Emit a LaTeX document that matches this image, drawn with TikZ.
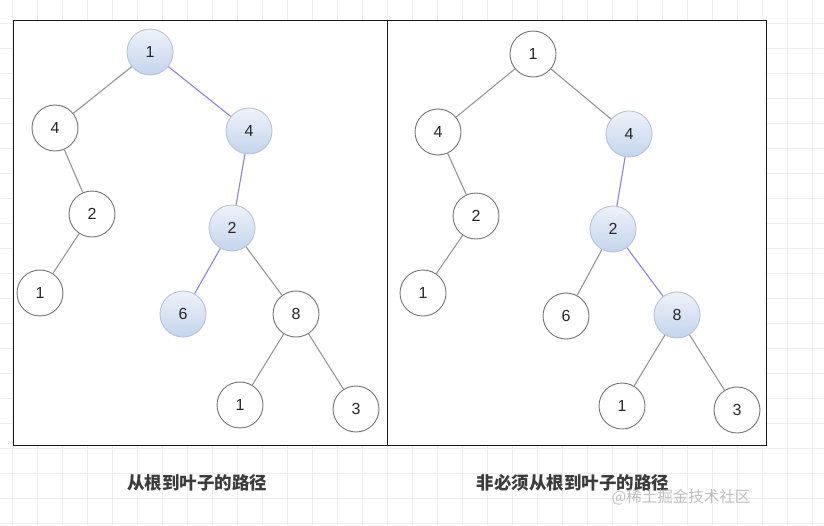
\documentclass[tikz,border=0pt]{standalone}
\usepackage{fontspec}
\setmainfont{Liberation Sans}
\newfontfamily\cjk{Noto Sans CJK SC}
\usetikzlibrary{positioning}
\definecolor{gridgray}{RGB}{238,238,238}
\definecolor{edgegray}{RGB}{150,150,150}
\definecolor{pathviolet}{RGB}{140,130,225}
\definecolor{ringgray}{RGB}{115,115,115}
\definecolor{hitring}{RGB}{185,195,210}
\definecolor{hittop}{RGB}{238,242,250}
\definecolor{hitbottom}{RGB}{196,212,236}
\definecolor{captiongray}{RGB}{60,60,60}
\definecolor{markgray}{RGB}{190,190,190}
\tikzset{
  vertex/.style={circle,draw=ringgray,line width=0.9pt,fill=white,minimum size=46pt,
                 inner sep=0pt,font=\fontsize{16}{18}\selectfont,text=black!85},
  onpath/.style={vertex,draw=hitring,top color=hittop,bottom color=hitbottom},
  branch/.style={edgegray,line width=1.1pt},
  route/.style={pathviolet,line width=1.1pt},
  panel/.style={draw=black!90,line width=1pt,fill=white},
  caption/.style={font=\cjk\bfseries\fontsize{17.5}{20}\selectfont,text=captiongray},
}

\begin{document}
\begin{tikzpicture}[x=1pt,y=-1pt]
  \path[use as bounding box] (0,0) rectangle (824,525);
  % faint grid of the canvas
  \foreach \gx in {12,37,...,812} \draw[gridgray,line width=0.6pt] (\gx,0) -- (\gx,525);
  \foreach \gy in {23,48,...,523} \draw[gridgray,line width=0.6pt] (0,\gy) -- (824,\gy);

  \node[panel,minimum width=374pt,minimum height=425pt,inner sep=0pt] (left) at (200,232.5) {};
  \node[panel,minimum width=379pt,minimum height=425pt,inner sep=0pt] (right) at (576.5,232.5) {};

  % left tree: root to leaf
  \node[onpath] (La) at (150,52) {1};
  \node[vertex] (Lb) at (55,128) {4};
  \node[onpath] (Lc) at (249,131) {4};
  \node[vertex] (Ld) at (92,214) {2};
  \node[onpath] (Le) at (232,228) {2};
  \node[vertex] (Lf) at (40,293) {1};
  \node[onpath] (Lg) at (183,314) {6};
  \node[vertex] (Lh) at (296,314) {8};
  \node[vertex] (Li) at (240,405) {1};
  \node[vertex] (Lj) at (356,409) {3};

  \draw[branch] (La) -- (Lb);
  \draw[route]  (La) -- (Lc);
  \draw[branch] (Lb) -- (Ld);
  \draw[branch] (Ld) -- (Lf);
  \draw[route]  (Lc) -- (Le);
  \draw[route]  (Le) -- (Lg);
  \draw[branch] (Le) -- (Lh);
  \draw[branch] (Lh) -- (Li);
  \draw[branch] (Lh) -- (Lj);

  % right tree: not necessarily from the root
  \node[vertex] (Ra) at (533,54) {1};
  \node[vertex] (Rb) at (438,132) {4};
  \node[onpath] (Rc) at (629,134) {4};
  \node[vertex] (Rd) at (476,216) {2};
  \node[onpath] (Re) at (613,229) {2};
  \node[vertex] (Rf) at (423,293) {1};
  \node[vertex] (Rg) at (566,316) {6};
  \node[onpath] (Rh) at (677,315) {8};
  \node[vertex] (Ri) at (622,406) {1};
  \node[vertex] (Rj) at (737,410) {3};

  \draw[branch] (Ra) -- (Rb);
  \draw[branch] (Ra) -- (Rc);
  \draw[branch] (Rb) -- (Rd);
  \draw[branch] (Rd) -- (Rf);
  \draw[route]  (Rc) -- (Re);
  \draw[branch] (Re) -- (Rg);
  \draw[route]  (Re) -- (Rh);
  \draw[branch] (Rh) -- (Ri);
  \draw[branch] (Rh) -- (Rj);

  \node[caption] (leftcap) at (197,483) {从根到叶子的路径};
  \node[caption] (rightcap) at (573,483) {非必须从根到叶子的路径};
  \node[font=\cjk\fontsize{15.5}{18}\selectfont,text=markgray] (mark) at (681,497) {@稀土掘金技术社区};
\end{tikzpicture}
\end{document}
